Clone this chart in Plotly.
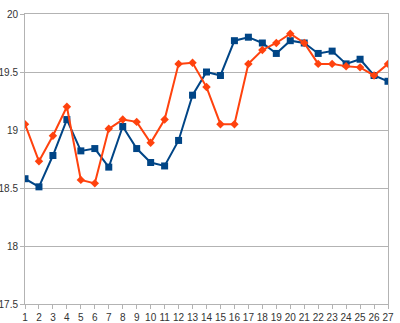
import plotly.graph_objects as go

x_vals = list(range(1, 28))
blue_vals = [18.58, 18.51, 18.78, 19.09, 18.82, 18.84, 18.68, 19.03, 18.84, 18.72,
             18.69, 18.91, 19.30, 19.50, 19.47, 19.77, 19.80, 19.75, 19.66, 19.77,
             19.75, 19.66, 19.68, 19.57, 19.61, 19.47, 19.42]
red_vals = [19.05, 18.73, 18.95, 19.20, 18.57, 18.54, 19.01, 19.09, 19.07, 18.89,
            19.09, 19.57, 19.58, 19.37, 19.05, 19.05, 19.57, 19.69, 19.75, 19.83,
            19.75, 19.57, 19.57, 19.55, 19.54, 19.47, 19.57]
y_ticks = [17.5, 18, 18.5, 19, 19.5, 20]

fig = go.Figure()
fig.add_trace(go.Scatter(x=x_vals, y=blue_vals, mode="lines+markers",
                         line=dict(color="#004586", width=2),
                         marker=dict(symbol="square", size=7, color="#004586")))
fig.add_trace(go.Scatter(x=x_vals, y=red_vals, mode="lines+markers",
                         line=dict(color="#ff420e", width=2),
                         marker=dict(symbol="diamond", size=6.5, color="#ff420e")))

fig.update_layout(
    width=400, height=323,
    margin=dict(l=25, r=12, t=14, b=19),
    paper_bgcolor="white", plot_bgcolor="white",
    showlegend=False,
    font=dict(family="Liberation Sans, Arial, sans-serif", size=10, color="#333333"),
    xaxis=dict(range=[1, 27], tickvals=x_vals, ticktext=[str(v) for v in x_vals],
               tickangle=0, automargin=False,
               showgrid=False, zeroline=False, showline=True, mirror=True,
               linecolor="#b3b3b3", linewidth=1, ticks="outside", ticklen=4,
               tickcolor="#b3b3b3", tickfont=dict(size=10)),
    yaxis=dict(range=[17.5, 20], tickvals=y_ticks, automargin=False,
               ticktext=["17.5", "18", "18.5", "19", "19.5", "20"],
               showgrid=True, gridcolor="#b3b3b3", gridwidth=1, zeroline=False,
               showline=True, mirror=True, linecolor="#b3b3b3", linewidth=1,
               ticks="outside", ticklen=4, tickcolor="#b3b3b3", tickfont=dict(size=10)),
)

fig.write_html("out.html")
